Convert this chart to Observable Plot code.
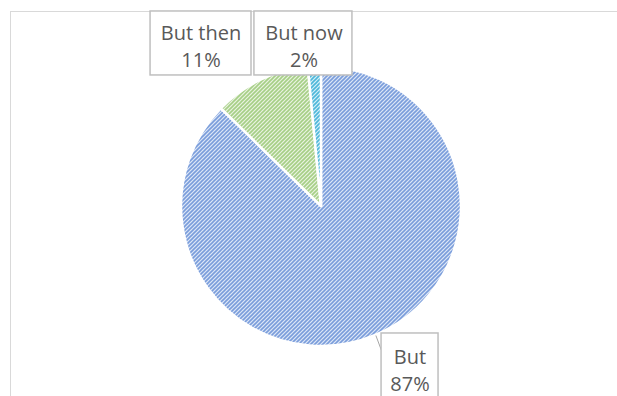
<!DOCTYPE html>
<html>
<head>
<meta charset="utf-8">
<script src="https://cdn.jsdelivr.net/npm/d3@7"></script>
<script src="https://cdn.jsdelivr.net/npm/@observablehq/plot@0.6"></script>
<style>
  html, body { margin: 0; padding: 0; background: #fff; }
</style>
</head>
<body>
<div id="chart"></div>
<script>
// ---- data ----
const categories = ["But", "But then", "But now"];
const values = [87.3, 11.2, 1.5];
const percentLabels = ["87%", "11%", "2%"];

// ---- styles ----
const patternFg = ["#7a9ddb", "#a6cf86", "#4db7da"];
const patternBg = ["#dde7f7", "#e9f3e0", "#d4eff8"];

// ---- label layout (in pie-radius units, centre = 0,0) ----
const labelBoxes = [
  {x1: 0.429, x2: 0.836, y1: -1.37, y2: -0.907, tx: 0.632, ty: -1.16},
  {x1: -1.221, x2: -0.5, y1: 0.936, y2: 1.393, tx: -0.861, ty: 1.154},
  {x1: -0.479, x2: 0.221, y1: 0.936, y2: 1.393, tx: -0.125, ty: 1.154}
];

const pieArcs = d3.pie().sort(null).value(d => d)(values);

const labelData = categories.map((c, i) => ({
  ...labelBoxes[i],
  text: c + "\n" + percentLabels[i]
}));

// leader line only for the big slice (label outside near its mid-angle)
const leaderData = [0].map(i => {
  const a = (pieArcs[i].startAngle + pieArcs[i].endAngle) / 2;
  return {x1: Math.sin(a), y1: Math.cos(a), x2: labelBoxes[i].x1, y2: -1.03};
});

function pieSlices(index, scales, vals, dimensions, context) {
  const cx = scales.x(0), cy = scales.y(0);
  const r = scales.x(1) - scales.x(0);
  const g = d3.create("svg:g");
  const defs = g.append("defs");
  values.forEach((v, i) => {
    const p = defs.append("pattern")
      .attr("id", "slicepat" + i)
      .attr("patternUnits", "userSpaceOnUse")
      .attr("width", 4).attr("height", 4);
    p.append("rect").attr("width", 4).attr("height", 4).attr("fill", patternBg[i]);
    p.append("path")
      .attr("d", "M-1,1L1,-1M0,4L4,0M3,5L5,3")
      .attr("stroke", patternFg[i])
      .attr("stroke-width", 1.6);
  });
  const arc = d3.arc().innerRadius(0).outerRadius(r);
  g.append("g")
    .attr("transform", `translate(${cx},${cy})`)
    .selectAll("path")
    .data(pieArcs)
    .join("path")
    .attr("d", arc)
    .attr("fill", (d, i) => `url(#slicepat${i})`)
    .attr("stroke", "#fff")
    .attr("stroke-width", 2.5)
    .attr("stroke-linejoin", "round");
  return g.node();
}

const chart = Plot.plot({
  width: 617,
  height: 396,
  marginLeft: 10,
  marginTop: 11,
  marginRight: -2,
  marginBottom: -2,
  x: {domain: [-1, 1], range: [181, 461], axis: null},
  y: {domain: [-1, 1], range: [346, 66], axis: null},
  style: {background: "#fff", fontFamily: "'Open Sans', sans-serif"},
  marks: [
    Plot.frame({stroke: "#d9d9d9", strokeWidth: 1}),
    pieSlices,
    Plot.link(leaderData, {x1: "x1", y1: "y1", x2: "x2", y2: "y2", stroke: "#a6a6a6", strokeWidth: 1}),
    Plot.rect(labelData, {x1: "x1", x2: "x2", y1: "y1", y2: "y2", fill: "#fff", stroke: "#bfbfbf", strokeWidth: 1.5}),
    Plot.text(labelData, {x: "tx", y: "ty", text: "text", fontSize: 20, lineHeight: 1.37, fill: "#595959"})
  ]
});

document.getElementById("chart").appendChild(chart);
</script>
</body>
</html>
